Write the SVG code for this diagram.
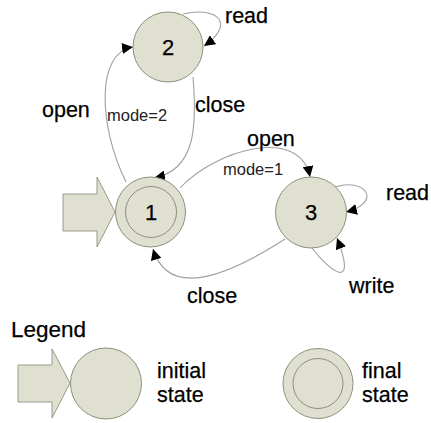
<svg xmlns="http://www.w3.org/2000/svg" width="431" height="423" viewBox="0 0 431 423">
<defs>
<style>
.st{fill:#dfe0cf;stroke:#8e8e80;stroke-width:1}
.in{fill:none;stroke:#8e8e80;stroke-width:1}
.ar{fill:#dfe0cf;stroke:#9a9a8c;stroke-width:1}
.e{fill:none;stroke:#a0a0a0;stroke-width:1.1}
.lb{font-family:"Liberation Sans",Arial,sans-serif;font-size:21.5px;fill:#000;stroke:#000;stroke-width:0.25}
.sm{font-family:"Liberation Sans",Arial,sans-serif;font-size:16.5px;fill:#222}
.nd{font-family:"Liberation Sans",Arial,sans-serif;font-size:22px;fill:#000;stroke:#000;stroke-width:0.25;text-anchor:middle}
</style>
<marker id="ah" viewBox="0 0 10 10" refX="10" refY="5" markerWidth="11" markerHeight="11" markerUnits="userSpaceOnUse" orient="auto">
<path d="M0,0 L10,5 L0,10 z" fill="#000"/>
</marker>
</defs>
<rect width="431" height="423" fill="#fff"/>
<g id="start-arrow">
<path class="ar" d="M63,194 L97,194 L97,177 L115,212 L97,247 L97,231 L63,231 Z"/>
</g>
<g id="connectors">
<path class="e" d="M126,182 C98,125 96,52 133,47" marker-end="url(#ah)"/>
<path class="e" d="M193,77 C197,125 196,170 154,178" marker-end="url(#ah)"/>
<path class="e" d="M180,188 C215,150 300,125 310,177" marker-end="url(#ah)"/>
<path class="e" d="M285,239 C240,268 170,305 153,249" marker-end="url(#ah)"/>
<path class="e" d="M183,14 C218,6 236,24 204,46" marker-end="url(#ah)"/>
<path class="e" d="M335,187 C367,177 382,203 346,212" marker-end="url(#ah)"/>
<path class="e" d="M312,248 C330,272 358,292 337,238" marker-end="url(#ah)"/>
</g>
<g id="node1">
<circle class="st" cx="150.5" cy="212" r="35"/>
<circle class="in" cx="151" cy="212" r="25.5"/>
<text class="nd" x="151" y="220">1</text>
</g>
<g id="node2">
<circle class="st" cx="168" cy="47" r="35"/>
<text class="nd" x="168" y="55">2</text>
</g>
<g id="node3">
<circle class="st" cx="311" cy="212.5" r="35.5"/>
<text class="nd" x="311" y="220">3</text>
</g>
<g id="labels">
<text class="lb" x="225" y="23">read</text>
<text class="lb" x="42" y="117">open</text>
<text class="sm" x="107" y="121">mode=2</text>
<text class="lb" x="195" y="112">close</text>
<text class="lb" x="247" y="146">open</text>
<text class="sm" x="223" y="175">mode=1</text>
<text class="lb" x="386" y="200">read</text>
<text class="lb" x="349" y="293">write</text>
<text class="lb" x="187" y="303">close</text>
</g>
<g id="legend">
<text class="lb" x="11" y="337" style="font-size:22.5px">Legend</text>
<path class="ar" d="M18,365 L52,365 L52,349 L70,383 L52,418 L52,402 L18,402 Z"/>
<circle class="st" cx="106" cy="383.5" r="35.5"/>
<text class="lb" x="157" y="378">initial</text>
<text class="lb" x="157" y="402">state</text>
<circle class="st" cx="318" cy="383.5" r="35"/>
<circle class="in" cx="318" cy="383.5" r="25"/>
<text class="lb" x="362" y="378">final</text>
<text class="lb" x="362" y="402">state</text>
</g>
</svg>
